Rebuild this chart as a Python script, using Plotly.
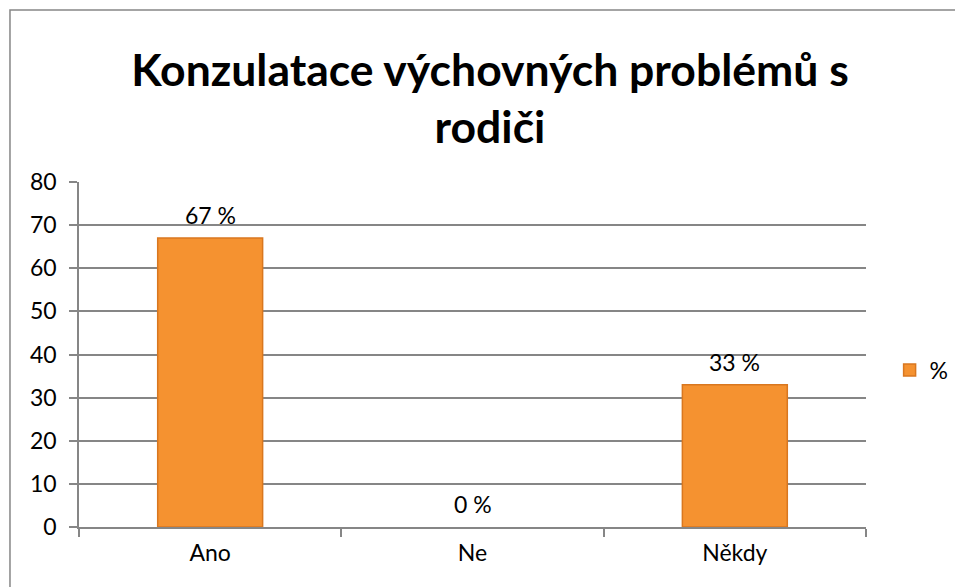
import plotly.graph_objects as go

categories = ["Ano", "Ne", "Někdy"]
values = [67, 0, 33]
labels = ["67 %", "0 %", "33 %"]
series_name = "%"
title_text = "Konzulatace výchovných problémů s<br>rodiči"

fig = go.Figure()
fig.add_trace(go.Bar(
    x=categories, y=values, name=series_name,
    marker=dict(color="#F59230", line=dict(color="#D9771F", width=[1.5, 0, 1.5])),
    showlegend=True,
))
for c, v, t in zip(categories, values, labels):
    fig.add_annotation(x=c, y=v, text=t, showarrow=False, yanchor="bottom",
                       yshift=7, font=dict(size=23, color="#000000"))

fig.update_layout(
    width=955, height=579,
    margin=dict(l=71, r=97, t=174, b=60, autoexpand=False),
    paper_bgcolor="white", plot_bgcolor="white",
    font=dict(family="Lato, Calibri, sans-serif", size=23, color="#000000"),
    title=dict(text="<b>" + title_text + "</b>", x=0.5047, xanchor="center",
               y=0.866, yanchor="middle", yref="container",
               font=dict(size=44.5, family="Lato, Calibri, sans-serif")),
    bargap=0.6,
    showlegend=True,
    legend=dict(x=1.03, y=0.455, xanchor="left", yanchor="middle",
                font=dict(size=23), itemwidth=30),
    xaxis=dict(showline=True, linecolor="#868686", linewidth=1.5,
               ticks="outside", tickson="boundaries", ticklen=8,
               tickcolor="#868686", tickwidth=1.5, showgrid=False,
               tickfont=dict(size=23), ticklabelstandoff=5),
    yaxis=dict(range=[0, 80], dtick=10, showline=True, linecolor="#868686",
               linewidth=1.5, ticks="outside", ticklen=8, tickcolor="#868686",
               tickwidth=1.5, showgrid=True, gridcolor="#868686", gridwidth=1.5,
               zeroline=False, tickfont=dict(size=23), ticklabelstandoff=8),
    shapes=[dict(type="rect", xref="paper", yref="paper",
                 x0=-0.0877, x1=2.0, y0=-1.0, y1=1.4986,
                 line=dict(color="#868686", width=1.5), fillcolor="rgba(0,0,0,0)",
                 layer="below")],
)

fig.write_html("out.html")
